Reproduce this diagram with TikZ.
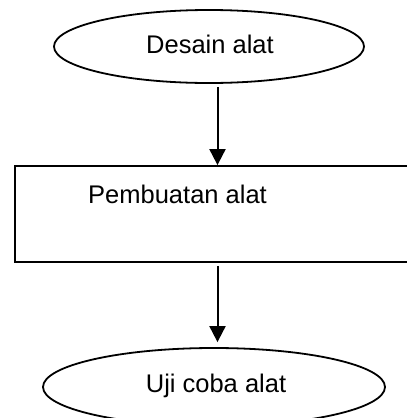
\documentclass[tikz,border=0pt]{standalone}
\usepackage{fontspec}
\setmainfont{Liberation Sans}
\usetikzlibrary{shapes.geometric,arrows.meta}
\begin{document}
\begin{tikzpicture}[x=1pt,y=-1pt,
  oval/.style={draw,line width=1.8pt,ellipse,inner sep=0pt},
  boxshape/.style={draw,line width=1.8pt,rectangle,inner sep=0pt,minimum width=405pt,minimum height=96pt},
  lbl/.style={inner sep=0pt,font=\fontsize{25.5}{30}\selectfont},
  arr/.style={line width=2pt,-{Triangle[width=16pt,length=16pt]}}]
\useasboundingbox (0,0) rectangle (407,418);
\clip (0,0) rectangle (407,418);
\node[oval,minimum width=310pt,minimum height=73pt] (top) at (209,46.5) {};
\node[lbl,anchor=base] (toptext) at (210,53.3) {Desain alat};
\node[boxshape] (box) at (217.5,214) {};
\node[lbl,anchor=base west] (boxtext) at (88,203) {Pembuatan alat};
\node[oval,minimum width=342pt,minimum height=78pt] (bot) at (214,387) {};
\node[lbl,anchor=base] (bottext) at (216,392.7) {Uji coba alat};
\draw[arr] ([yshift=-3pt]top.south -| box.north) -- (box.north);
\draw[arr] ([yshift=-3pt]box.south) -- ([yshift=5pt]bot.north -| box.south);
\end{tikzpicture}
\end{document}
